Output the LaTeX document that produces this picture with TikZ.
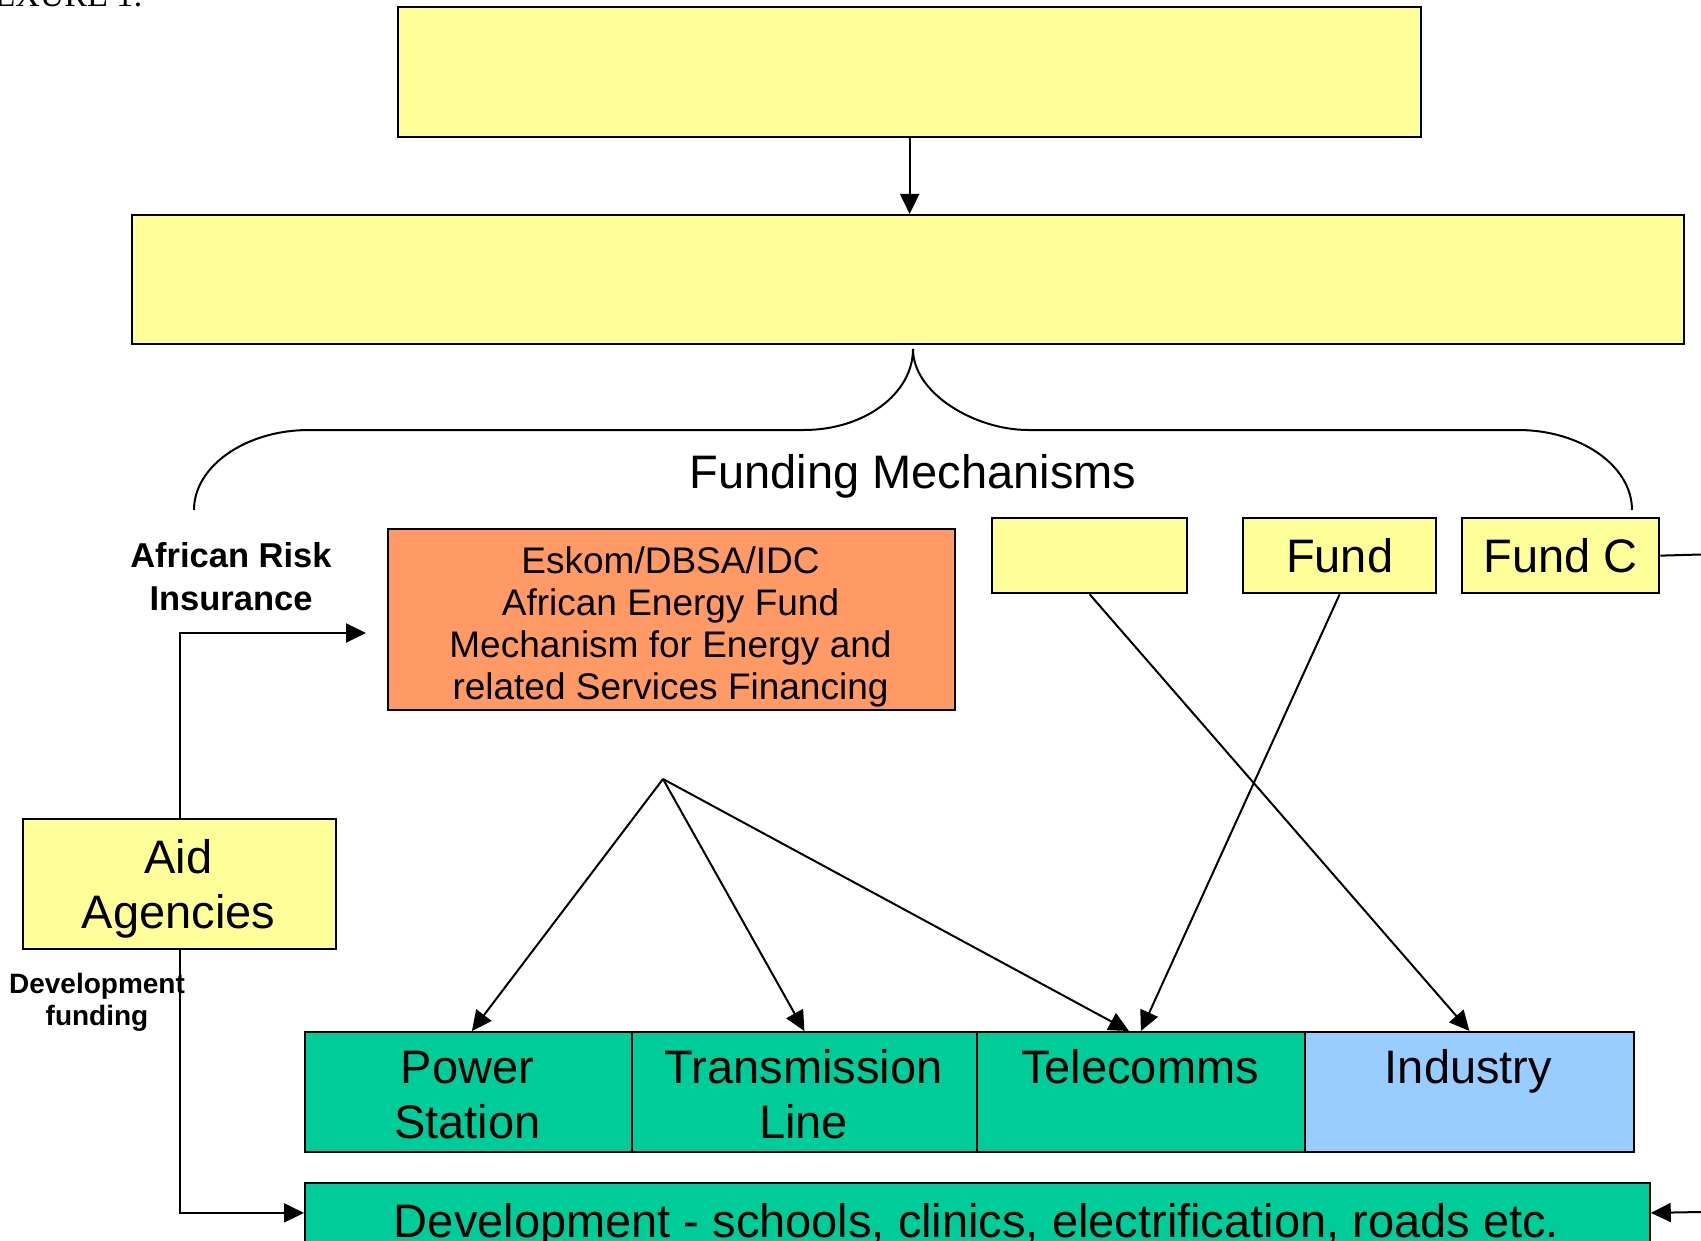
\documentclass[tikz,border=0pt]{standalone}
\usepackage{fontspec}
\setmainfont{Liberation Sans}
\newfontfamily\annexfont{Liberation Serif}
\usetikzlibrary{arrows.meta}
\definecolor{yel}{HTML}{FFFF99}
\definecolor{org}{HTML}{FF9966}
\definecolor{grn}{HTML}{00CC99}
\definecolor{blu}{HTML}{99CCFF}
\tikzset{
  box/.style={draw=black, line width=2.3pt, anchor=north west, inner sep=0pt},
  rowbox/.style={box, line width=1.8pt},
  ln/.style={line width=2pt},
  arr/.style={ln, -{Triangle[length=20pt,width=19pt]}},
  big/.style={font=\fontsize{47}{55}\selectfont, align=center, inner sep=0pt, anchor=base},
  mid/.style={font=\fontsize{37}{42}\selectfont, align=center, inner sep=0pt, anchor=base},
  lbl/.style={font=\bfseries\fontsize{34.5}{43}\selectfont, align=center, inner sep=0pt, anchor=base},
  sml/.style={font=\bfseries\fontsize{28}{32.5}\selectfont, align=center, inner sep=0pt, anchor=base},
}
\begin{document}
\begin{tikzpicture}[x=1pt,y=-1pt]
\useasboundingbox (0,0) rectangle (1701,1241);

% header text
\node[font=\annexfont\fontsize{34}{40}\selectfont, anchor=base east, inner sep=0pt] (annex) at (143,7) {ANNEXURE 1:};

% top boxes
\node[box, fill=yel, minimum width=1023pt, minimum height=130pt] (top) at (397,6) {};
\node[box, fill=yel, minimum width=1552pt, minimum height=129pt] (second) at (131,214) {};

% brace
\coordinate (btip) at (913,349);
\coordinate (bl) at (194,510);
\coordinate (br) at (1632,510);
\draw[ln] (btip) .. controls (913,394) and (864,430) .. (804,430) -- (309,430) .. controls (246,430) and (194,466) .. (bl);
\draw[ln] (btip) .. controls (913,394) and (976,430) .. (1028,430) -- (1518,430) .. controls (1581,430) and (1632,466) .. (br);
\node[big] (fm) at (913,488) {Funding Mechanisms};

% funding mechanism boxes
\node[box, fill=org, minimum width=567pt, minimum height=181pt] (orange) at (387,528) {};
\node[mid] (orangetxt) at (670.5,699) {Eskom/DBSA/IDC\\African Energy Fund\\Mechanism for Energy and\\related Services Financing};
\node[box, fill=yel, minimum width=195pt, minimum height=75pt] (empty) at (991,517) {};
\node[box, fill=yel, minimum width=193pt, minimum height=75pt, font=\fontsize{47}{55}\selectfont] (fund) at (1242,517) {Fund};
\node[box, fill=yel, minimum width=197pt, minimum height=75pt, font=\fontsize{47}{55}\selectfont] (fundc) at (1461,517) {Fund C};

% left side
\node[lbl] (ari) at (231,610) {African Risk\\Insurance};
\node[box, fill=yel, minimum width=313pt, minimum height=130pt] (aid) at (22,818) {};
\node[big] (aidtxt) at (178.5,928) {Aid\\Agencies};
\node[sml] (devf) at (97,1025.5) {Development\\funding};

% bottom row
\node[rowbox, fill=grn, minimum width=327pt, minimum height=120pt] (ps) at (304,1031) {};
\node[rowbox, fill=grn, minimum width=345pt, minimum height=120pt] (tl) at (631,1031) {};
\node[rowbox, fill=grn, minimum width=328pt, minimum height=120pt] (tc) at (976,1031) {};
\node[rowbox, fill=blu, minimum width=329pt, minimum height=120pt] (in) at (1304,1031) {};
\node[big] (pstxt) at (467.5,1138) {Power\\Station};
\node[big] (tltxt) at (803.5,1138) {Transmission\\Line};
\node[big] (tctxt) at (1140,1083) {Telecomms};
\node[big] (intxt) at (1468.5,1083) {Industry};

\node[rowbox, fill=grn, minimum width=1345pt, minimum height=60pt] (dev) at (304,1182) {};
\node[big] (devtxt) at (976.5,1237) {Development - schools, clinics, electrification, roads etc.};

% connectors
\draw[arr] (top.south) -- (top.south |- second.north);
\coordinate (fcEnd) at (1701,554.5);
\draw[ln] (fundc.east) -- (fcEnd);
\coordinate (ariEnd) at (366,633);
\draw[arr] (aid.north) |- (ariEnd);
\draw[arr] (aid.south) |- (dev.west);
\coordinate (devR) at (1701,1212);
\draw[arr] (devR) -- (dev.east);
\coordinate (fan) at (663,779);
\draw[arr] (fan) -- ([xshift=3.5pt]ps.north);
\draw[arr] (fan) -- (tl.north);
\draw[arr] (fan) -- ([xshift=-12pt]tc.north);
\draw[arr] (empty.south) -- (in.north);
\draw[arr] (fund.south) -- (tc.north);
\end{tikzpicture}
\end{document}
